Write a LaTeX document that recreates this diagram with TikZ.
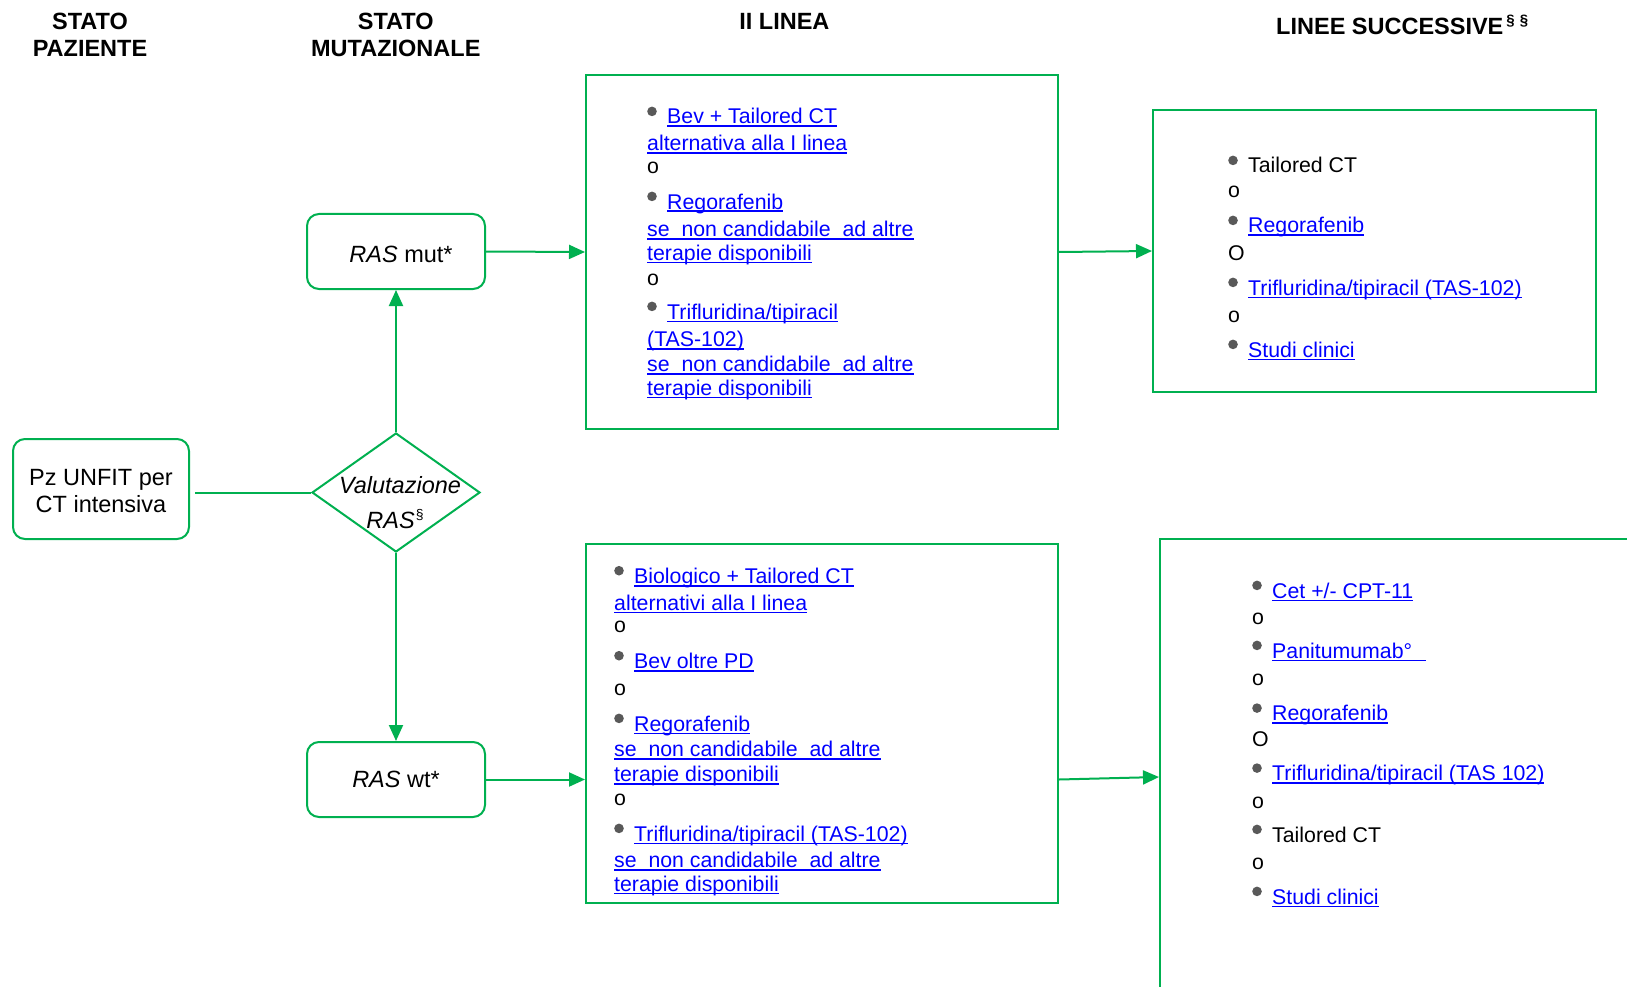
\documentclass[tikz,border=0pt]{standalone}
\usepackage{fontspec}
\setmainfont{Liberation Sans}
\usetikzlibrary{shapes.geometric,arrows.meta,calc}

\definecolor{flowgreen}{HTML}{00B050}
\definecolor{linkblue}{HTML}{0000FF}
\definecolor{dotgray}{HTML}{595959}

% underlined blue hyperlink-style text
\newcommand\lnk[1]{\textcolor{linkblue}{\setbox0=\hbox{#1}\rlap{\rule[-3.3pt]{\wd0}{1.8pt}}\box0}}
% plain list line / bulleted list line
\newcommand\tline[4]{\node[txtline] (#1) at (#2,#3) {#4};}
\newcommand\bline[4]{\node[txtline] (#1) at (#2,#3) {#4};
  \fill[dotgray] ($(#1.base west)+(-15,-12.6)$) circle (4.8pt);}

\tikzset{
  conn/.style={draw=flowgreen, line width=2pt},
  arr/.style={conn, -{Triangle[length=16pt,width=14pt]}},
  roundbox/.style={draw=flowgreen, line width=2pt, rounded corners=12pt, inner sep=0,
    font=\fontsize{23.5}{27}\selectfont, align=center},
  listbox/.style={draw=flowgreen, line width=2pt, inner sep=0},
  headtext/.style={font=\fontsize{23.5}{27}\selectfont\bfseries, align=center, inner sep=0},
  bigtext/.style={font=\fontsize{23.5}{27}\selectfont, inner sep=0},
  txtline/.style={font=\fontsize{21.3}{25}\selectfont, inner sep=0, anchor=base west},
}

\begin{document}
\begin{tikzpicture}[x=1pt,y=-1pt]
\useasboundingbox (0,0) rectangle (1627,987);
\fill[white] (0,0) rectangle (1627,987);

% column headings
\node[headtext] (h1) at (90,34.8) {STATO\\PAZIENTE};
\node[headtext] (h2) at (395.8,34.8) {STATO\\MUTAZIONALE};
\node[headtext] (h3) at (784.4,21.3) {II LINEA};
\node[headtext, anchor=base west] (h4) at (1276,34.4)
  {LINEE SUCCESSIVE\raisebox{9pt}{\fontsize{15}{15}\selectfont\bfseries\hspace{3pt}§\hspace{5pt}§}};

% patient and mutational status
\node[roundbox, minimum width=176pt, minimum height=100pt] (pz) at (101,489)
  {\rule{0pt}{21pt}Pz UNFIT per\\CT intensiva};
\node[diamond, draw=flowgreen, line width=2pt, minimum width=168pt,
  minimum height=119pt, inner sep=0] (dia) at (396,492.5) {};
\node[bigtext, anchor=base] (dia1) at (400,493) {\itshape Valutazione};
\node[bigtext, anchor=base] (dia2) at (395,528)
  {\itshape RAS\raisebox{9pt}{\upshape\fontsize{14}{14}\selectfont\hspace{1pt}§}};
\node[roundbox, minimum width=178pt, minimum height=75pt] (rasmut) at (396,251.5)
  {\rule{0pt}{22pt}\hspace{10pt}\textit{RAS} mut*};
\node[roundbox, minimum width=178pt, minimum height=75pt] (raswt) at (396,779.5)
  {\textit{RAS} wt*};

% therapy boxes
\node[listbox, minimum width=472pt, minimum height=354pt] (l2a) at (822,252) {};
\node[listbox, minimum width=443pt, minimum height=282pt] (lsa) at (1374.5,251) {};
\node[listbox, minimum width=472pt, minimum height=359pt] (l2b) at (822,723.5) {};
\node[listbox, minimum width=500pt, minimum height=476pt] (lsb) at (1410,777) {};

% connectors
\draw[conn] ([xshift=5pt]pz.east |- dia.west) -- (dia.west);
\draw[arr] (dia.north) -- (rasmut.south);
\draw[arr] (dia.south) -- (raswt.north);
\draw[arr] (rasmut.east) -- (l2a.west);
\draw[arr] (raswt.east) -- (raswt.east -| l2b.west);
\draw[arr] (l2a.east) -- (lsa.west);
\draw[arr] (l2b.east |- raswt.east) -- (lsb.west);

% II linea, RAS mut
\bline{a1}{667}{124}{\lnk{Bev + Tailored CT}}
\tline{a2}{647}{150.7}{\lnk{alternativa alla I linea}}
\tline{a3}{647}{174}{o}
\bline{a4}{667}{209}{\lnk{Regorafenib}}
\tline{a5}{647}{236.7}{\lnk{se\ \ non candidabile\ \ ad altre}}
\tline{a6}{647}{260}{\lnk{terapie disponibili}}
\tline{a7}{647}{285}{o}
\bline{a8}{667}{319}{\lnk{Trifluridina/tipiracil}}
\tline{a9}{647}{346.7}{\lnk{(TAS-102)}}
\tline{a10}{647}{371.7}{\lnk{se\ \ non candidabile\ \ ad altre}}
\tline{a11}{647}{395}{\lnk{terapie disponibili}}

% II linea, RAS wt
\bline{b1}{634}{583.3}{\lnk{Biologico + Tailored CT}}
\tline{b2}{614}{610}{\lnk{alternativi alla I linea}}
\tline{b3}{614}{632.7}{o}
\bline{b4}{634}{668.3}{\lnk{Bev oltre PD}}
\tline{b5}{614}{695}{o}
\bline{b6}{634}{731}{\lnk{Regorafenib}}
\tline{b7}{614}{756.7}{\lnk{se\ \ non candidabile\ \ ad altre}}
\tline{b8}{614}{781.7}{\lnk{terapie disponibili}}
\tline{b9}{614}{805}{o}
\bline{b10}{634}{841}{\lnk{Trifluridina/tipiracil (TAS-102)}}
\tline{b11}{614}{867.7}{\lnk{se\ \ non candidabile\ \ ad altre}}
\tline{b12}{614}{891}{\lnk{terapie disponibili}}

% later lines, RAS mut
\bline{c1}{1248}{173}{Tailored CT}
\tline{c2}{1228}{198}{o}
\bline{c3}{1248}{233}{\lnk{Regorafenib}}
\tline{c4}{1228}{260}{O}
\bline{c5}{1248}{295}{\lnk{Trifluridina/tipiracil (TAS-102)}}
\tline{c6}{1228}{322}{o}
\bline{c7}{1248}{357}{\lnk{Studi clinici}}

% later lines, RAS wt
\bline{d1}{1272}{598}{\lnk{Cet +/- CPT-11}}
\tline{d2}{1252}{624}{o}
\bline{d3}{1272}{658}{\lnk{Panitumumab°\hspace{14pt}}}
\tline{d4}{1252}{685}{o}
\bline{d5}{1272}{720.7}{\lnk{Regorafenib}}
\tline{d6}{1252}{746}{O}
\bline{d7}{1272}{780.7}{\lnk{Trifluridina/tipiracil (TAS 102)}}
\tline{d8}{1252}{808}{o}
\bline{d9}{1272}{842}{Tailored CT}
\tline{d10}{1252}{869}{o}
\bline{d11}{1272}{904}{\lnk{Studi clinici}}
\end{tikzpicture}
\end{document}
